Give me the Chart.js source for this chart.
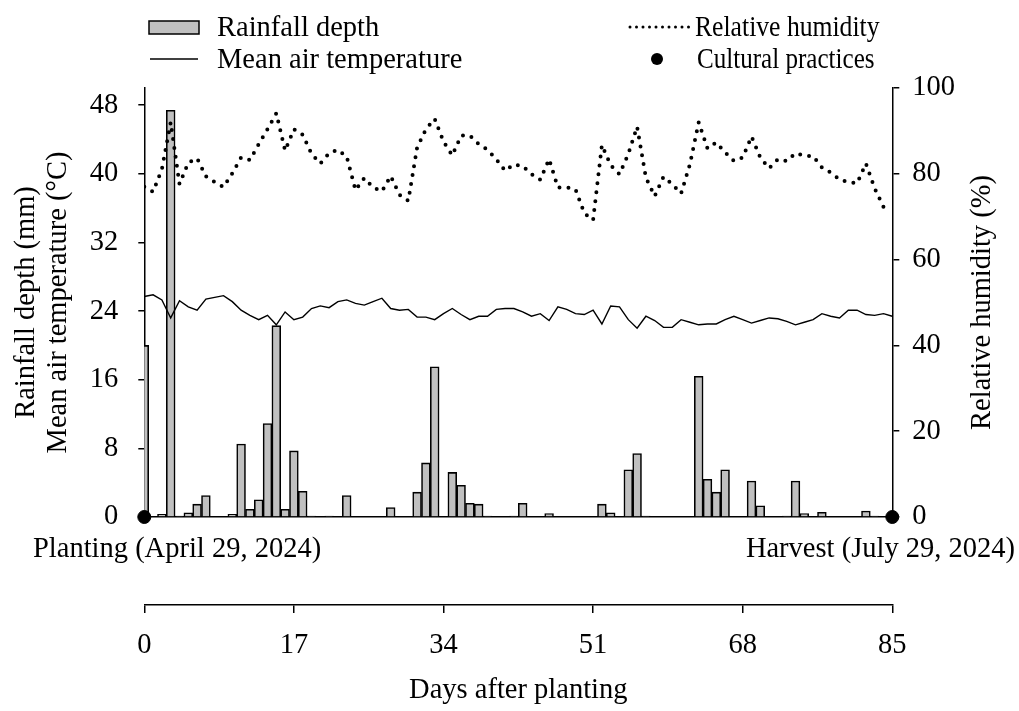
<!DOCTYPE html>
<html>
<head>
<meta charset="utf-8">
<script src="https://cdn.jsdelivr.net/npm/chart.js@4"></script>
<style>
html,body{margin:0;padding:0;background:#fff;}
#wrap{width:1019px;height:711px;position:relative;}
</style>
</head>
<body>
<div id="wrap"><canvas id="c" width="1019" height="711"></canvas></div>
<script>
// ---- data ----
const days = [0,1,2,3,4,5,6,7,8,9,10,11,12,13,14,15,16,17,18,19,20,21,22,23,24,25,26,27,28,29,
  30,31,32,33,34,35,36,37,38,39,40,41,42,43,44,45,46,47,48,49,50,51,52,53,54,55,56,57,58,59,
  60,61,62,63,64,65,66,67,68,69,70,71,72,73,74,75,76,77,78,79,80,81,82,83,84,85];

const rainfall = [20.0,0,0.3,47.4,0.1,0.5,1.5,2.5,0,0,0.3,8.5,0.9,2.0,10.9,22.3,0.9,7.7,3.0,0.1,
  0,0.1,0,2.5,0,0,0,0,1.1,0,0,2.9,6.3,17.5,0,5.2,3.7,1.6,1.5,0.1,
  0,0,0.1,1.6,0,0,0.4,0,0,0,0,0,1.5,0.5,0,5.5,7.4,0.1,0,0,
  0,0,0,16.4,4.4,2.9,5.5,0,0,4.2,1.3,0,0,0.1,4.2,0.4,0,0.55,0,0,
  0,0,0.7,0.1,0,0];

const temperature = [25.7,25.9,25.3,23.2,25.2,24.5,24.1,25.4,25.6,25.8,25.1,24.1,23.5,23.0,23.5,22.4,23.9,23.0,23.3,24.3,
  24.6,24.4,25.1,25.3,24.9,24.7,25.1,25.5,24.3,24.1,24.2,23.3,23.3,23.0,23.7,24.3,23.6,23.0,23.4,23.4,
  24.2,24.3,24.3,23.9,23.4,23.7,22.9,24.5,24.2,23.7,23.6,24.1,22.5,24.6,24.5,23.0,22.0,23.4,22.9,22.1,
  22.1,23.0,22.7,22.4,22.5,22.5,23.0,23.4,23.0,22.6,22.9,23.2,23.1,22.8,22.4,22.7,23.0,23.7,23.4,23.2,
  24.1,24.1,23.6,23.5,23.7,23.4];

const humidity = [77.0,75.8,81.1,92.0,77.6,82.6,83.6,79.4,78.1,76.9,80.1,83.8,83.2,86.9,90.4,94.1,85.4,90.4,89.1,84.7,
  82.4,84.8,85.6,84.0,76.2,79.0,76.8,75.9,79.5,75.1,73.7,86.1,90.4,92.8,87.5,84.3,88.9,88.9,86.9,85.6,
  83.4,80.7,82.2,81.8,79.9,78.6,83.4,76.8,76.8,76.4,70.8,69.2,86.7,82.0,79.9,84.6,91.0,79.1,74.8,79.3,
  77.6,75.4,82.2,92.0,85.9,87.3,85.0,83.0,83.8,88.7,83.8,81.3,83.4,83.0,84.8,84.2,84.1,81.5,80.3,78.7,
  78.0,77.8,82.4,76.6,72.3,null];

const practiceDays = [0, 85];
const practiceValues = [0, 0];

const leftTicks = [0, 8, 16, 24, 32, 40, 48];
const rightTicks = [0, 20, 40, 60, 80, 100];
const dayTicks = [0, 17, 34, 51, 68, 85];

const seriesLabels = ['Rainfall depth', 'Mean air temperature', 'Relative humidity', 'Cultural practices'];
const startLabel = 'Planting (April 29, 2024)';
const endLabel = 'Harvest (July 29, 2024)';
const rightTitle = 'Relative humidity (%)';

// ---- styling ----
const FAMILY = '"Liberation Serif", "Times New Roman", serif';
const FS = 28.5;
const font = {family: FAMILY, size: FS, lineHeight: 1.2};

const xy = (arr) => arr.map((v, i) => ({x: days[i], y: v}));

function narrowText(ctx, text, x, y, sx) {
  ctx.save();
  ctx.translate(x, y);
  ctx.scale(sx, 1);
  ctx.fillText(text, 0, 0);
  ctx.restore();
}

const annotate = {
  id: 'annotate',
  afterDraw(chart) {
    const ctx = chart.ctx;
    ctx.save();
    ctx.font = FS + 'px ' + FAMILY;
    ctx.fillStyle = '#000';
    ctx.textBaseline = 'alphabetic';
    ctx.textAlign = 'left';
    // legend row 1, col 1: bar swatch
    ctx.fillStyle = '#c0c0c0';
    ctx.fillRect(149, 21, 50, 13);
    ctx.strokeStyle = '#000';
    ctx.lineWidth = 1.5;
    ctx.strokeRect(149, 21, 50, 13);
    ctx.fillStyle = '#000';
    ctx.fillText(seriesLabels[0], 217, 36);
    // row 2, col 1: solid line
    ctx.beginPath();
    ctx.moveTo(150, 59); ctx.lineTo(198, 59);
    ctx.lineWidth = 1.5; ctx.stroke();
    ctx.fillText(seriesLabels[1], 217, 68);
    // row 1, col 2: dotted line
    ctx.beginPath();
    ctx.setLineDash([0, 6.5]);
    ctx.lineCap = 'round';
    ctx.lineWidth = 3;
    ctx.moveTo(630, 27); ctx.lineTo(689, 27);
    ctx.stroke();
    ctx.setLineDash([]);
    narrowText(ctx, seriesLabels[2], 695, 36, 0.9);
    // row 2, col 2: dot
    ctx.beginPath();
    ctx.arc(657, 59, 6, 0, Math.PI * 2);
    ctx.fill();
    narrowText(ctx, seriesLabels[3], 697, 68, 0.88);
    // planting / harvest labels
    ctx.textAlign = 'left';
    ctx.fillText(startLabel, 33, 557);
    ctx.textAlign = 'right';
    ctx.fillText(endLabel, 1015, 557);
    // right axis title, reading bottom-to-top
    const ca = chart.chartArea;
    ctx.translate(983, (ca.top + ca.bottom) / 2);
    ctx.rotate(-Math.PI / 2);
    ctx.textAlign = 'center';
    ctx.textBaseline = 'middle';
    ctx.fillText(rightTitle, 0, 0);
    ctx.restore();
  }
};

new Chart(document.getElementById('c'), {
  data: {
    datasets: [
      {
        type: 'line', label: seriesLabels[3], data: practiceDays.map((d, i) => ({x: d, y: practiceValues[i]})),
        showLine: false, pointRadius: 6.5, pointHoverRadius: 6.5, pointBackgroundColor: '#000', pointBorderColor: '#000',
        clip: false, yAxisID: 'y', xAxisID: 'x', order: 0
      },
      {
        type: 'line', label: seriesLabels[2], data: xy(humidity), yAxisID: 'y2', xAxisID: 'x',
        borderColor: '#000', borderWidth: 4, borderDash: [0, 9], borderCapStyle: 'round',
        pointRadius: 0, tension: 0, fill: false, spanGaps: false, order: 1
      },
      {
        type: 'line', label: seriesLabels[1], data: xy(temperature), yAxisID: 'y', xAxisID: 'x',
        borderColor: '#000', borderWidth: 1.4, pointRadius: 0, tension: 0, fill: false, order: 2
      },
      {
        type: 'bar', label: seriesLabels[0], data: xy(rainfall), yAxisID: 'y', xAxisID: 'x',
        backgroundColor: '#c0c0c0', borderColor: '#000', borderWidth: 1.6,
        barPercentage: 1, categoryPercentage: 1, order: 3
      }
    ]
  },
  options: {
    responsive: false,
    animation: false,
    devicePixelRatio: 1,
    layout: {padding: {top: 88, left: 0, right: 0, bottom: 0}},
    plugins: {legend: {display: false}, tooltip: {enabled: false}},
    scales: {
      x: {
        type: 'linear', position: 'bottom', min: 0, max: 85, offset: false, weight: 0,
        grid: {display: false},
        border: {display: true, color: '#000', width: 1.5},
        ticks: {display: false},
        afterFit: (s) => { s.height = 88; }
      },
      x2: {
        type: 'linear', position: 'bottom', min: 0, max: 85, offset: false, weight: 1,
        grid: {display: true, drawOnChartArea: false, drawTicks: true, tickLength: 8, color: '#000', lineWidth: 1.5},
        border: {display: true, color: '#000', width: 1.5},
        ticks: {color: '#000', font: font, padding: 15, maxRotation: 0},
        afterBuildTicks: (s) => { s.ticks = dayTicks.map(v => ({value: v})); },
        title: {display: true, text: 'Days after planting', color: '#000', font: font, padding: {top: 0, bottom: 3}},
        afterFit: (s) => { s.height = 106; }
      },
      y: {
        type: 'linear', position: 'left', min: 0, max: 50,
        grid: {display: true, drawOnChartArea: false, drawTicks: true, tickLength: 6, color: '#000', lineWidth: 1.5},
        border: {display: true, color: '#000', width: 1.5},
        ticks: {color: '#000', font: font, padding: 20},
        afterBuildTicks: (s) => { s.ticks = leftTicks.map(v => ({value: v})); },
        title: {display: true, text: ['Rainfall depth (mm)', 'Mean air temperature (\u00B0C)'], color: '#000',
          font: {family: FAMILY, size: FS, lineHeight: 1.12}, padding: {top: 11, bottom: 0}},
        afterFit: (s) => { s.width = 144.3; }
      },
      y2: {
        type: 'linear', position: 'right', min: 0, max: 100,
        grid: {display: true, drawOnChartArea: false, drawTicks: true, tickLength: 7, color: '#000', lineWidth: 1.5},
        border: {display: true, color: '#000', width: 1.5},
        ticks: {color: '#000', font: font, padding: 13},
        afterBuildTicks: (s) => { s.ticks = rightTicks.map(v => ({value: v})); },
        title: {display: false},
        afterFit: (s) => { s.width = 126.7; }
      }
    }
  },
  plugins: [annotate]
});
</script>
</body>
</html>
